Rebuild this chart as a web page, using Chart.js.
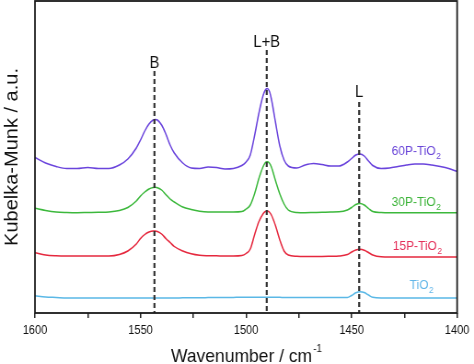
<!DOCTYPE html>
<html><head><meta charset="utf-8">
<script src="https://cdn.jsdelivr.net/npm/chart.js@4.4.1/dist/chart.umd.min.js"></script>
<style>html,body{margin:0;padding:0;background:#fff;overflow:hidden}canvas{display:block}</style>
</head><body>
<canvas id="c" width="515" height="364" style="width:474px;height:364px"></canvas>
<script>
// ---- data (wavenumber in cm-1, Kubelka-Munk in a.u., offset traces) ----
const wavenumbers = [1600,1595,1590,1585,1580,1575,1570,1565,1560,1556,1552,1550,1548,1546,1544,1543,1542,1540,1538,1536,1534,1530,1526,1522,1518,1514,1510,1506,1502,1500,1498,1496,1494,1492,1491,1490,1489,1488,1486,1484,1482,1480,1476,1472,1468,1464,1460,1456,1452,1450,1448,1446,1444,1442,1440,1436,1432,1428,1424,1420,1416,1412,1408,1404,1400];

const km60P = [1.555,1.50,1.465,1.445,1.445,1.455,1.445,1.445,1.48,1.54,1.65,1.73,1.82,1.89,1.93,1.935,1.93,1.88,1.79,1.68,1.60,1.50,1.45,1.445,1.46,1.455,1.44,1.445,1.475,1.51,1.58,1.77,1.99,2.17,2.225,2.245,2.22,2.14,1.90,1.67,1.53,1.47,1.45,1.48,1.495,1.485,1.47,1.47,1.51,1.545,1.58,1.59,1.57,1.52,1.475,1.445,1.45,1.465,1.48,1.49,1.49,1.48,1.465,1.445,1.415];

const km30P = [1.047,1.025,1.01,1.005,1.003,1.005,1.007,1.01,1.025,1.055,1.12,1.17,1.21,1.24,1.255,1.257,1.253,1.23,1.185,1.14,1.11,1.06,1.035,1.017,1.01,1.01,1.01,1.01,1.015,1.04,1.08,1.19,1.34,1.46,1.50,1.512,1.50,1.46,1.32,1.19,1.09,1.03,1.005,1.003,1.005,1.007,1.01,1.012,1.03,1.055,1.085,1.095,1.08,1.045,1.015,1.005,1.003,1.003,1.003,1.003,1.003,1.003,1.003,1.003,1.003];

const km15P = [0.603,0.58,0.572,0.57,0.57,0.57,0.57,0.57,0.585,0.62,0.69,0.745,0.785,0.81,0.82,0.82,0.815,0.79,0.745,0.705,0.665,0.62,0.592,0.577,0.573,0.572,0.57,0.57,0.575,0.595,0.64,0.78,0.91,0.99,1.013,1.02,1.01,0.98,0.87,0.73,0.62,0.58,0.567,0.565,0.565,0.565,0.567,0.57,0.585,0.61,0.63,0.637,0.627,0.605,0.58,0.562,0.56,0.56,0.56,0.56,0.56,0.56,0.56,0.56,0.56];

const kmTiO2 = [0.173,0.160,0.155,
  0.150,0.150,0.150,0.150,0.150,0.150,0.150,0.150,0.150,0.150,0.150,0.150,0.150,0.150,0.150,0.150,0.150,0.150,
  0.152,0.153,0.153,0.154,0.155,0.155,0.156,
  0.157,0.157,0.157,0.157,0.157,0.157,0.157,0.157,0.157,0.157,0.157,0.157,
  0.155,0.155,0.155,0.155,0.155,0.155,0.155,0.155,
  0.155,0.175,0.202,0.213,0.205,0.180,0.157,
  0.150,0.150,0.150,0.150,0.150,0.150,0.150,0.150,0.150,0.150];

const seriesNames = ['60P-TiO', '30P-TiO', '15P-TiO', 'TiO'];   // each followed by subscript "2"
const seriesSub = '2';
const bandLabels = ['B', 'L+B', 'L'];
const bandCenters = [1543.4, 1490.2, 1446.4];
const xTickLabels = [1600, 1550, 1500, 1450, 1400];
const xTitle = 'Wavenumber / cm';
const xTitleSup = '-1';
const yTitle = 'Kubelka-Munk / a.u.';

// ---- styling / placement ----
const FONT = "'Liberation Sans', Arial, sans-serif";
const lineColors = ['#6a44dc', '#3cb83c', '#e5283e', '#5ab8e6'];
const labelColors = ['#6a46d8', '#3db43a', '#e4305a', '#62b6e8'];
const labelAnchor = [[1431, 1.58], [1431, 1.07], [1430.5, 0.63], [1422.5, 0.237]];
const bandTop = [2.42, 2.63, 2.11];
const bandTextY = [2.447, 2.663, 2.163];

const series = [km60P, km30P, km15P, kmTiO2];
const datasets = series.map((vals, k) => ({
  data: wavenumbers.map((w, i) => ({x: w, y: vals[i]})),
  borderColor: lineColors[k], borderWidth: 1.5, pointRadius: 0, fill: false,
  cubicInterpolationMode: 'monotone', order: 2
}));
bandCenters.forEach((c, i) => datasets.push({
  data: [{x: c, y: bandTop[i]}, {x: c, y: 0}],
  borderColor: '#333', borderWidth: 2.2, borderDash: [5, 3], pointRadius: 0,
  fill: false, order: 0
}));

const deco = {
  id: 'deco',
  afterDraw(chart) {
    const {ctx, chartArea: a, scales: {x, y}} = chart;
    ctx.save();
    ctx.strokeStyle = '#1a1a1a'; ctx.lineWidth = 1.8;
    ctx.strokeRect(a.left, a.top, a.right - a.left, a.bottom - a.top);

    ctx.fillStyle = '#111';
    ctx.font = '16px ' + FONT;
    ctx.textAlign = 'center'; ctx.textBaseline = 'alphabetic';
    bandLabels.forEach((t, i) => ctx.fillText(t, x.getPixelForValue(bandCenters[i]), y.getPixelForValue(bandTextY[i])));

    ctx.textAlign = 'left';
    seriesNames.forEach((t, i) => {
      const px = x.getPixelForValue(labelAnchor[i][0]);
      const py = y.getPixelForValue(labelAnchor[i][1]);
      ctx.fillStyle = labelColors[i];
      ctx.font = '13px ' + FONT;
      ctx.fillText(t, px, py);
      const w = ctx.measureText(t).width;
      ctx.font = '9px ' + FONT;
      ctx.fillText(seriesSub, px + w + 0.5, py + 3.5);
    });

    // x title with superscript
    ctx.fillStyle = '#111';
    ctx.font = '19px ' + FONT;
    const mw = ctx.measureText(xTitle).width;
    ctx.font = '11px ' + FONT;
    const sw = ctx.measureText(xTitleSup).width;
    const cx = (a.left + a.right) / 2;
    const sx = cx - (mw + sw) / 2;
    ctx.font = '19px ' + FONT;
    ctx.fillText(xTitle, sx, 362);
    ctx.font = '11px ' + FONT;
    ctx.fillText(xTitleSup, sx + mw + 1, 352);

    // y title
    ctx.translate(19, (a.top + a.bottom) / 2);
    ctx.rotate(-Math.PI / 2);
    ctx.font = '20px ' + FONT;
    ctx.textAlign = 'center';
    ctx.fillText(yTitle, 0, 0);
    ctx.restore();
  }
};

new Chart(document.getElementById('c'), {
  type: 'line',
  data: {datasets},
  options: {
    responsive: false, animation: false, devicePixelRatio: 1,
    layout: {padding: {left: 38, top: 1, right: 17.4, bottom: 0}, autoPadding: false},
    plugins: {legend: {display: false}, tooltip: {enabled: false}},
    scales: {
      x: {
        type: 'linear', reverse: true, min: 1400, max: 1600,
        afterFit: s => { s.height = 51; },
        border: {display: false},
        grid: {drawOnChartArea: false, drawTicks: true, tickLength: 5, color: '#222', lineWidth: 1.5},
        ticks: {stepSize: 25, autoSkip: false, maxRotation: 0, padding: 5, color: '#111',
          font: {family: FONT, size: 12},
          callback: v => xTickLabels.includes(v) ? String(v) : ''}
      },
      y: {display: false, min: 0, max: 3.12}
    }
  },
  plugins: [deco]
});
</script>
</body></html>
